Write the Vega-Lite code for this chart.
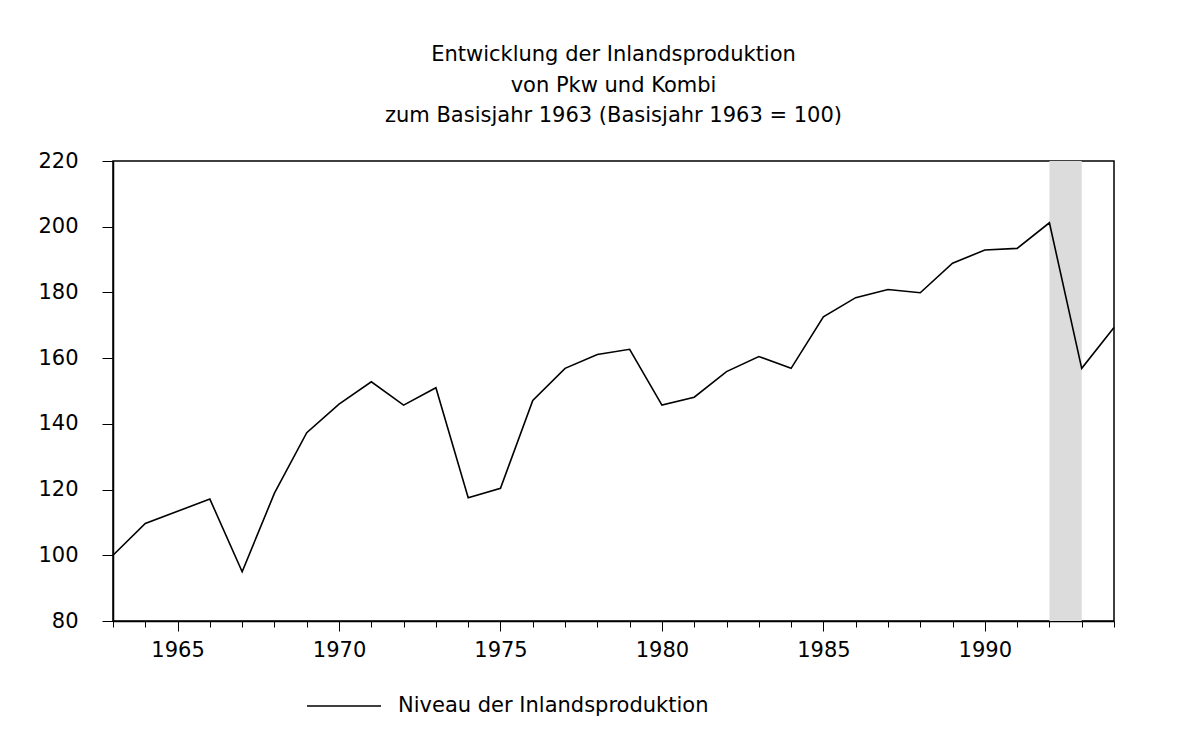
{
  "$schema": "https://vega.github.io/schema/vega-lite/v6.json",
  "width": 1001,
  "height": 460,
  "autosize": {"type": "none"},
  "padding": {"left": 113, "top": 161, "right": 73, "bottom": 121},
  "background": "white",
  "title": {
    "text": ["Entwicklung der Inlandsproduktion", "von Pkw und Kombi", "zum Basisjahr 1963 (Basisjahr 1963 = 100)"],
    "font": "DejaVu Sans",
    "fontSize": 21,
    "fontWeight": "normal",
    "color": "black",
    "lineHeight": 30.5,
    "anchor": "middle",
    "offset": 24
  },
  "config": {
    "view": {"stroke": "black", "strokeWidth": 1.5},
    "axis": {
      "labelFont": "DejaVu Sans",
      "labelFontSize": 21,
      "labelColor": "black",
      "domainColor": "black",
      "domainWidth": 1.5,
      "tickColor": "black",
      "tickWidth": 1,
      "grid": false,
      "title": null
    },
    "legend": {
      "labelFont": "DejaVu Sans",
      "labelFontSize": 21,
      "labelColor": "black",
      "labelLimit": 0
    }
  },
  "datasets": {
    "series": [
      {"year": 1963, "value": 100.0},
      {"year": 1964, "value": 109.7},
      {"year": 1965, "value": 113.4},
      {"year": 1966, "value": 117.1},
      {"year": 1967, "value": 95.0},
      {"year": 1968, "value": 118.9},
      {"year": 1969, "value": 137.3},
      {"year": 1970, "value": 146.0},
      {"year": 1971, "value": 152.8},
      {"year": 1972, "value": 145.7},
      {"year": 1973, "value": 151.0},
      {"year": 1974, "value": 117.5},
      {"year": 1975, "value": 120.4},
      {"year": 1976, "value": 147.1},
      {"year": 1977, "value": 156.9},
      {"year": 1978, "value": 161.1},
      {"year": 1979, "value": 162.7},
      {"year": 1980, "value": 145.7},
      {"year": 1981, "value": 148.1},
      {"year": 1982, "value": 155.9},
      {"year": 1983, "value": 160.5},
      {"year": 1984, "value": 156.9},
      {"year": 1985, "value": 172.6},
      {"year": 1986, "value": 178.4},
      {"year": 1987, "value": 180.9},
      {"year": 1988, "value": 179.9},
      {"year": 1989, "value": 188.9},
      {"year": 1990, "value": 192.9},
      {"year": 1991, "value": 193.4},
      {"year": 1992, "value": 201.2},
      {"year": 1993, "value": 156.9},
      {"year": 1994, "value": 169.3}
    ],
    "band": [{"start": 1992, "end": 1993}]
  },
  "layer": [
    {
      "data": {"name": "band"},
      "mark": {"type": "rect", "color": "#dcdcdc"},
      "encoding": {
        "x": {
          "field": "start",
          "type": "quantitative",
          "scale": {"domain": [1963, 1994], "nice": false, "zero": false},
          "axis": {
            "orient": "bottom",
            "values": [1963,1964,1965,1966,1967,1968,1969,1970,1971,1972,1973,1974,1975,1976,1977,1978,1979,1980,1981,1982,1983,1984,1985,1986,1987,1988,1989,1990,1991,1992,1993,1994],
            "tickSize": 6,
            "labels": false,
            "domain": true
          }
        },
        "x2": {"field": "end"}
      }
    },
    {
      "data": {"name": "series"},
      "mark": {"type": "line", "strokeWidth": 1.6},
      "encoding": {
        "x": {
          "field": "year",
          "type": "quantitative",
          "scale": {"domain": [1963, 1994], "nice": false, "zero": false},
          "axis": {
            "orient": "bottom",
            "values": [1965, 1970, 1975, 1980, 1985, 1990],
            "format": "d",
            "tickSize": 10,
            "labelPadding": 8,
            "domain": false
          }
        },
        "y": {
          "field": "value",
          "type": "quantitative",
          "scale": {"domain": [80, 220], "nice": false, "zero": false},
          "axis": {
            "orient": "left",
            "values": [80, 100, 120, 140, 160, 180, 200, 220],
            "tickSize": 11,
            "labelPadding": 24
          }
        },
        "color": {
          "datum": "Niveau der Inlandsproduktion",
          "type": "nominal",
          "scale": {"range": ["black"]},
          "legend": {
            "title": null,
            "orient": "none",
            "legendX": 193,
            "legendY": 507,
            "padding": 0,
            "symbolType": "stroke",
            "symbolSize": 5476,
            "symbolStrokeWidth": 1.5,
            "labelOffset": 16,
            "labelLimit": 0
          }
        }
      }
    }
  ],
  "resolve": {"axis": {"x": "independent"}}
}
